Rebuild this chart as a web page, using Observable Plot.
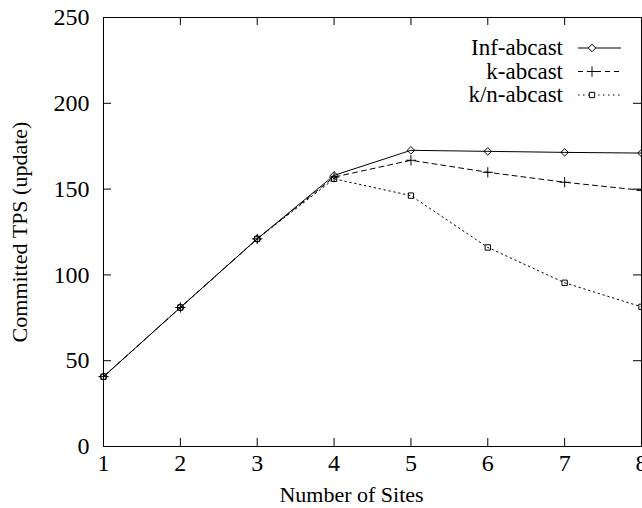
<!DOCTYPE html>
<html>
<head>
<meta charset="utf-8">
<script src="https://cdn.jsdelivr.net/npm/d3@7"></script>
<script src="https://cdn.jsdelivr.net/npm/@observablehq/plot@0.6"></script>
<style>
  html, body { margin: 0; padding: 0; background: #fff; overflow: hidden; }
  #chart svg { font-family: "Liberation Serif", "Times New Roman", serif; }
</style>
</head>
<body>
<div id="chart"></div>
<script>
const sites = [1, 2, 3, 4, 5, 6, 7, 8];
const seriesNames = ["Inf-abcast", "k-abcast", "k/n-abcast"];
const infAbcast = [40.7, 81, 121, 158, 172.6, 172, 171.4, 171];
const kAbcast = [40.7, 81, 121, 157, 166.8, 159.8, 154, 149.3];
const knAbcast = [40.7, 81, 121, 156, 146.2, 116, 95.4, 81.4];
const xTicks = [1, 2, 3, 4, 5, 6, 7, 8];
const yTicks = [0, 50, 100, 150, 200, 250];
const xTitle = "Number of Sites";
const yTitle = "Committed TPS (update)";

const seriesValues = [infAbcast, kAbcast, knAbcast];
const styles = [
  { dash: null, symbol: "diamond2" },
  { dash: "5,4", symbol: "plus" },
  { dash: "1.5,3.5", symbol: "square2" }
];

const data = [];
seriesNames.forEach((name, i) => {
  sites.forEach((s, j) => data.push({ series: name, sites: s, tps: seriesValues[i][j] }));
});

const W = 642, H = 508;
const mTop = 17, mBottom = 62, mLeft = 103, mRight = 1;
const frameH = H - mTop - mBottom;
const frameW = W - mLeft - mRight;
const tick = 8;
const fTick = 24, fTitle = 22;

const marks = [
  Plot.frame({ stroke: "black", strokeWidth: 1 }),
  // inward ticks (bottom & top mirrored, left & right mirrored)
  Plot.ruleX(xTicks, { x: d => d, insetTop: frameH - tick, stroke: "black", strokeWidth: 1 }),
  Plot.ruleX(xTicks, { x: d => d, insetBottom: frameH - tick, stroke: "black", strokeWidth: 1 }),
  Plot.ruleY(yTicks, { y: d => d, insetRight: frameW - tick, stroke: "black", strokeWidth: 1 }),
  Plot.ruleY(yTicks, { y: d => d, insetLeft: frameW - tick, stroke: "black", strokeWidth: 1 }),
  // tick labels
  Plot.text(xTicks, { x: d => d, frameAnchor: "bottom", lineAnchor: "middle", dy: 17, fontSize: fTick, fill: "black", text: d => String(d) }),
  Plot.text(yTicks, { y: d => d, frameAnchor: "left", textAnchor: "end", lineAnchor: "middle", dx: -14, fontSize: fTick, fill: "black", text: d => String(d) }),
  // axis titles
  Plot.text([xTitle], { frameAnchor: "bottom", textAnchor: "middle", lineAnchor: "middle", dy: 48, dx: -21, fontSize: fTitle, fill: "black", text: d => d }),
  Plot.text([yTitle], { frameAnchor: "left", textAnchor: "middle", lineAnchor: "middle", rotate: -90, dx: -84, fontSize: fTitle, fill: "black", text: d => d })
];
seriesNames.forEach((name, i) => {
  const sub = data.filter(d => d.series === name);
  marks.push(Plot.line(sub, { x: "sites", y: "tps", stroke: "black", strokeWidth: 1, strokeDasharray: styles[i].dash }));
  marks.push(Plot.dot(sub, { x: "sites", y: "tps", symbol: () => styles[i].symbol, r: 3.4, stroke: "black", strokeWidth: 1, fill: "none" }));
});

const plot = Plot.plot({
  width: W,
  height: H,
  marginTop: mTop,
  marginBottom: mBottom,
  marginLeft: mLeft,
  marginRight: mRight,
  style: { overflow: "visible", background: "white", color: "black" },
  x: { domain: [1, 8], type: "linear", axis: null },
  y: { domain: [0, 250], type: "linear", axis: null },
  symbol: { type: "identity" },
  marks
});
document.getElementById("chart").appendChild(plot);

// Legend (top-right, inside the frame)
const svg = d3.select(plot);
const lg = svg.append("g").attr("font-family", "Liberation Serif, serif").attr("font-size", 23);
const textRight = 563, lineX1 = 578, lineX2 = 621, markX = 592;
const row0 = 48, rowH = 23.5;
seriesNames.forEach((name, i) => {
  const y = row0 + i * rowH;
  lg.append("text").attr("x", textRight).attr("y", y).attr("dy", "0.32em")
    .attr("text-anchor", "end").attr("fill", "black").text(name);
  lg.append("line").attr("x1", lineX1).attr("x2", lineX2).attr("y1", y).attr("y2", y)
    .attr("stroke", "black").attr("stroke-width", 1)
    .attr("stroke-dasharray", styles[i].dash);
  const sym = d3.symbol().type(
    styles[i].symbol === "diamond2" ? d3.symbolDiamond2 :
    styles[i].symbol === "plus" ? d3.symbolPlus : d3.symbolSquare2
  ).size(Math.PI * 3.4 * 3.4);
  lg.append("path").attr("d", sym()).attr("transform", `translate(${markX},${y})`)
    .attr("fill", "white").attr("stroke", "black").attr("stroke-width", 1);
});
</script>
</body>
</html>
